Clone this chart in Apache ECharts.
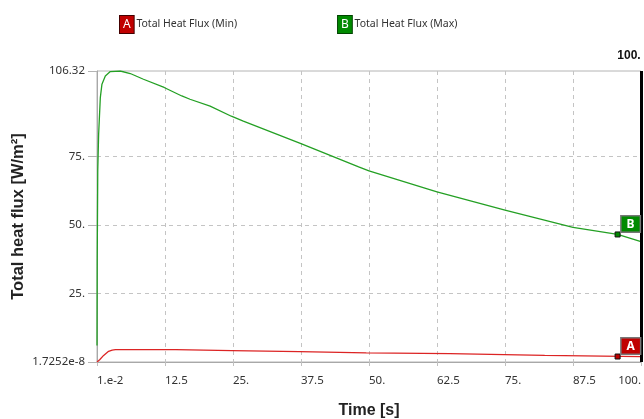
<!DOCTYPE html>
<html>
<head>
<meta charset="utf-8">
<script src="https://cdn.jsdelivr.net/npm/echarts@6/dist/echarts.min.js"></script>
<style>html,body{margin:0;padding:0;background:#fff}#c{width:644px;height:419px}</style>
</head>
<body>
<div id="c"></div>
<script>
const seriesNames = ['Total Heat Flux (Min)', 'Total Heat Flux (Max)'];
const badgeLetters = ['A', 'B'];
const xTicks = [0.01, 12.5, 25, 37.5, 50, 62.5, 75, 87.5, 100];
const xTickLabels = ['1.e-2', '12.5', '25.', '37.5', '50.', '62.5', '75.', '87.5', '100.'];
const yTicks = [1.7252e-8, 25, 50, 75, 106.32];
const yTickLabels = ['1.7252e-8', '25.', '50.', '75.', '106.32'];
const minTime = [0.01, 0.5, 1.23, 2.14, 2.8, 3.4, 14.5, 14.7, 24.8, 25.0, 37.2, 37.4, 49.5, 49.7, 64.9, 65.1, 82.3, 82.5, 100];
const minFlux = [1.7252e-8, 0.8, 2.4, 3.9, 4.35, 4.5, 4.5, 4.18, 4.18, 3.8, 3.8, 3.3, 3.3, 3.07, 3.07, 2.45, 2.45, 2.0, 2.0];
const maxTime = [0.01, 0.05, 0.15, 0.31, 0.62, 0.92, 1.54, 2.45, 4.29, 6.12, 8.55, 12.35, 15.6, 17.1, 20.8, 24.7, 26.9, 37.5, 48.1, 50, 62.5, 75, 87.5, 95.7, 100];
const maxFlux = [6, 37, 70, 83.2, 96.6, 101.5, 104.5, 106.1, 106.32, 105.4, 103.3, 100.3, 97.2, 96.0, 93.5, 89.8, 88.0, 79.8, 71.3, 69.8, 62.2, 55.5, 49.2, 46.6, 44.0];
const cursorTime = 100;
const cursorLabel = '100.';
const probeTime = 95.7;
const probeMin = 2.0;
const probeMax = 46.6;

const FONT = 'Noto Sans';
const colors = ['#dc2424', '#24a024'];
const badgeColors = ['#c00000', '#008a00'];

function zip(a, b) { return a.map((v, i) => [v, b[i]]); }
function fmtTick(ticks, labels) {
  return function (v) {
    let best = 0;
    for (let i = 1; i < ticks.length; i++) if (Math.abs(ticks[i] - v) < Math.abs(ticks[best] - v)) best = i;
    return labels[best];
  };
}

const chart = echarts.init(document.getElementById('c'), null, { renderer: 'canvas' });

function probe(idx, value) {
  return {
    symbol: 'rect', symbolSize: 5, silent: true,
    itemStyle: { color: badgeColors[idx], borderColor: '#111', borderWidth: 1 },
    label: {
      show: true, formatter: badgeLetters[idx], position: [7, -15],
      color: '#fff', fontFamily: FONT, fontSize: 12, fontWeight: 'bold',
      backgroundColor: badgeColors[idx], borderColor: '#777', borderWidth: 1.5,
      padding: [2, 5, 1, 5]
    },
    data: [{ coord: [probeTime, value] }]
  };
}

chart.setOption({
  animation: false,
  textStyle: { fontFamily: FONT },
  legend: {
    top: 10, left: 110, itemGap: 96, selectedMode: false,
    icon: 'rect', itemWidth: 0, itemHeight: 0,
    data: seriesNames,
    formatter: function (n) { return n === seriesNames[0] ? '{a|A} ' + n : '{b|B} ' + n; },
    textStyle: {
      fontFamily: FONT, fontSize: 10.5, color: '#333',
      rich: {
        a: { backgroundColor: badgeColors[0], color: '#fff', borderColor: '#400', borderWidth: 1, padding: [3, 3, 2, 3], fontSize: 12, fontFamily: FONT },
        b: { backgroundColor: badgeColors[1], color: '#fff', borderColor: '#040', borderWidth: 1, padding: [3, 3, 2, 3], fontSize: 12, fontFamily: FONT }
      }
    }
  },
  grid: { left: 97, right: 3, top: 71, bottom: 57, show: true, borderColor: '#b4b4b4', borderWidth: 1, outerBoundsMode: 'none', containLabel: false },
  xAxis: {
    type: 'value', min: xTicks[0], max: xTicks[xTicks.length - 1],
    name: 'Time [s]', nameLocation: 'middle', nameGap: 41, nameMoveOverlap: false,
    nameTextStyle: { fontFamily: 'Liberation Sans', fontWeight: 'bold', fontSize: 16, color: '#222' },
    axisLine: { lineStyle: { color: '#a8a8a8' } },
    axisTick: { show: true, customValues: xTicks, length: 8, lineStyle: { color: '#c0c0c0', type: [4, 4] } },
    axisLabel: { customValues: xTicks, formatter: fmtTick(xTicks, xTickLabels), align: 'left', alignMaxLabel: 'right', margin: 13, color: '#333', fontFamily: FONT, fontSize: 11.5 },
    splitLine: { show: true, showMinLine: false, showMaxLine: false, lineStyle: { color: '#c4c4c4', type: [4, 4] } }
  },
  yAxis: {
    type: 'value', min: yTicks[0], max: yTicks[yTicks.length - 1],
    name: 'Total heat flux [W/m²]', nameLocation: 'middle', nameGap: 70, nameMoveOverlap: false,
    nameTextStyle: { fontFamily: 'Liberation Sans', fontWeight: 'bold', fontSize: 16.5, color: '#222' },
    axisLine: { show: true, lineStyle: { color: '#a8a8a8' } },
    axisTick: { show: true, customValues: yTicks, length: 9, lineStyle: { color: '#b4b4b4' } },
    axisLabel: { customValues: yTicks, formatter: fmtTick(yTicks, yTickLabels), margin: 12, color: '#333', fontFamily: FONT, fontSize: 11.5 },
    splitLine: { show: true, showMinLine: false, showMaxLine: false, lineStyle: { color: '#c4c4c4', type: [4, 4] } }
  },
  series: [
    {
      name: seriesNames[0], type: 'line', data: zip(minTime, minFlux), showSymbol: false,
      color: colors[0], lineStyle: { width: 1.3, color: colors[0] }, z: 3,
      markPoint: probe(0, probeMin),
      markLine: {
        silent: true, symbol: 'none',
        lineStyle: { color: '#000', width: 3, type: 'solid' },
        label: { show: true, position: 'end', formatter: cursorLabel, fontFamily: 'Liberation Sans', fontWeight: 'bold', fontSize: 12, color: '#111', padding: [0, 24, 0, 0], distance: 9 },
        data: [{ xAxis: cursorTime }]
      }
    },
    {
      name: seriesNames[1], type: 'line', data: zip(maxTime, maxFlux), showSymbol: false,
      color: colors[1], lineStyle: { width: 1.3, color: colors[1] }, z: 3,
      markPoint: probe(1, probeMax)
    }
  ]
});
</script>
</body>
</html>
